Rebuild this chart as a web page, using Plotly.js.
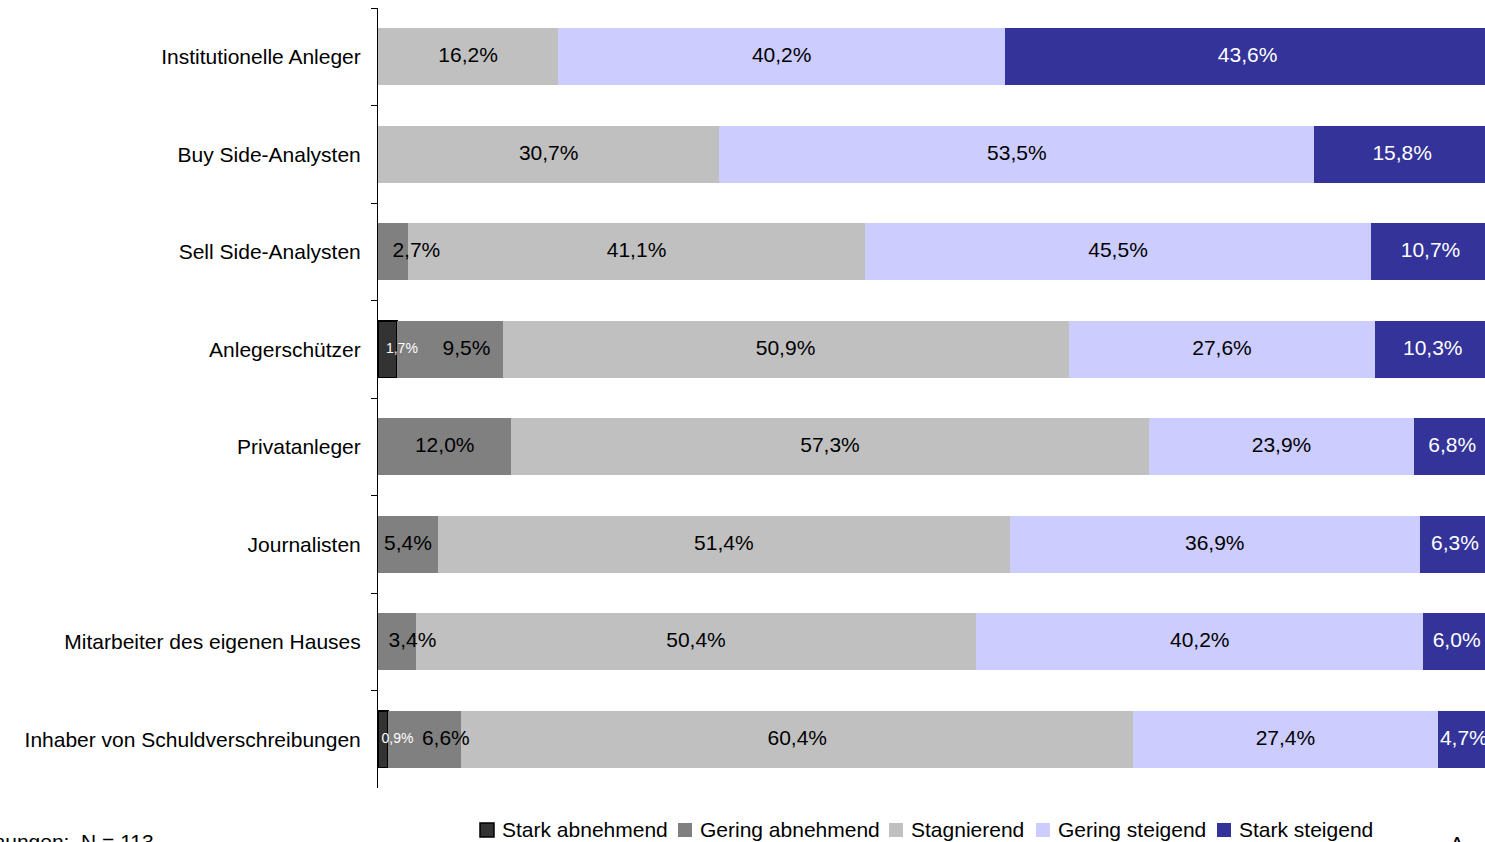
<!DOCTYPE html>
<html>
<head>
<meta charset="utf-8">
<script src="https://cdn.plot.ly/plotly-3.0.1.min.js"></script>
<style>html,body{margin:0;padding:0;background:#fff;}#chart{width:1485px;height:842px;}</style>
</head>
<body>
<div id="chart"></div>
<script>
const categories = [
  "Institutionelle Anleger",
  "Buy Side-Analysten",
  "Sell Side-Analysten",
  "Anlegerschützer",
  "Privatanleger",
  "Journalisten",
  "Mitarbeiter des eigenen Hauses",
  "Inhaber von Schuldverschreibungen"
];
const seriesNames = ["Stark abnehmend", "Gering abnehmend", "Stagnierend", "Gering steigend", "Stark steigend"];
const starkAbnehmend = [0, 0, 0, 1.7, 0, 0, 0, 0.9];
const geringAbnehmend = [0, 0, 2.7, 9.5, 12.0, 5.4, 3.4, 6.6];
const stagnierend = [16.2, 30.7, 41.1, 50.9, 57.3, 51.4, 50.4, 60.4];
const geringSteigend = [40.2, 53.5, 45.5, 27.6, 23.9, 36.9, 40.2, 27.4];
const starkSteigend = [43.6, 15.8, 10.7, 10.3, 6.8, 6.3, 6.0, 4.7];
const sampleNote = "Nennungen:  N = 113";

/* ---------- styling ---------- */
const W = 1485, H = 842;
const M = {l: 378, r: 0, t: 8, b: 54};
const seriesValues = [starkAbnehmend, geringAbnehmend, stagnierend, geringSteigend, starkSteigend];
const colors = ["#333333", "#808080", "#C0C0C0", "#CCCCFF", "#333399"];
const textColors = ["#FFFFFF", "#000000", "#000000", "#000000", "#FFFFFF"];
const textSizes = [14, 21, 21, 21, 21];
const FONT = "Liberation Sans, Arial, sans-serif";
const FS = 21;
// label nudges (axis units) so that narrow-segment labels don't collide, as in the original
const labelNudge = {
  "2|1": 2.1,
  "3|0": 1.3, "3|1": 1.5,
  "6|1": 1.4,
  "7|0": 1.3, "7|1": 1.9
};
// legend layout (pixels): square left edges, square size, text centre line
const legendLeft = [480, 678, 889, 1036, 1217];
const legendSq = 14, legendSqTop = 823, legendTextY = 829, legendTextGap = 20;

const pw = W - M.l - M.r, ph = H - M.t - M.b;
const px2x = p => (p - M.l) / pw;
const px2y = p => (H - M.b - p) / ph;

function fmt(v) { return v > 0 ? v.toFixed(1).replace(".", ",") + "%" : ""; }

const traces = seriesValues.map((vals, i) => ({
  type: "bar",
  orientation: "h",
  name: seriesNames[i],
  y: categories,
  x: vals,
  marker: {color: colors[i], line: {color: "#000000", width: i === 0 ? 1.5 : 0}},
  hoverinfo: "skip"
}));

// label layer: centred on each segment via cumulative sums of the data
const cumul = categories.map(() => 0);
seriesValues.forEach((vals, i) => {
  const xs = vals.map((v, k) => {
    const c = cumul[k] + v / 2 + (labelNudge[k + "|" + i] || 0);
    cumul[k] += v;
    return c;
  });
  traces.push({
    type: "scatter",
    mode: "text",
    x: xs,
    y: categories,
    text: vals.map(fmt),
    textposition: "middle center",
    textfont: {family: FONT, size: textSizes[i], color: textColors[i]},
    cliponaxis: false,
    showlegend: false,
    hoverinfo: "skip"
  });
});

// custom legend (squares + labels) to match the original spacing
const shapes = seriesNames.map((n, i) => ({
  type: "rect", xref: "paper", yref: "paper",
  x0: px2x(legendLeft[i]), x1: px2x(legendLeft[i] + legendSq),
  y0: px2y(legendSqTop + legendSq), y1: px2y(legendSqTop),
  fillcolor: colors[i],
  line: {color: "#000000", width: i === 0 ? 1.5 : 0}
}));
const annotations = seriesNames.map((n, i) => ({
  text: n, xref: "paper", yref: "paper",
  x: px2x(legendLeft[i] + legendTextGap), xanchor: "left",
  y: px2y(legendTextY), yanchor: "middle",
  showarrow: false, font: {family: FONT, size: FS, color: "#000000"}
}));
annotations.push(
  {text: sampleNote, xref: "paper", yref: "paper", x: px2x(156), xanchor: "right", y: px2y(827.5), yanchor: "top", showarrow: false, font: {family: FONT, size: FS, color: "#000000"}},
  {text: "A", xref: "paper", yref: "paper", x: px2x(1448), xanchor: "left", y: px2y(829.5), yanchor: "top", showarrow: false, font: {family: FONT, size: FS, color: "#000000"}}
);

const layout = {
  width: W,
  height: H,
  margin: M,
  barmode: "stack",
  bargap: 0.42,
  paper_bgcolor: "#FFFFFF",
  plot_bgcolor: "#FFFFFF",
  font: {family: FONT, size: FS, color: "#000000"},
  showlegend: false,
  xaxis: {range: [0, 99.55], visible: false, fixedrange: true},
  yaxis: {
    type: "category",
    autorange: "reversed",
    showline: true,
    linecolor: "#000000",
    linewidth: 1,
    ticks: "outside",
    tickson: "boundaries",
    ticklen: 6,
    tickcolor: "#000000",
    ticklabelstandoff: 12,
    showgrid: false,
    zeroline: false,
    tickfont: {family: FONT, size: FS, color: "#000000"}
  },
  shapes: shapes,
  annotations: annotations
};

Plotly.newPlot("chart", traces, layout, {displayModeBar: false, staticPlot: true});
</script>
</body>
</html>
